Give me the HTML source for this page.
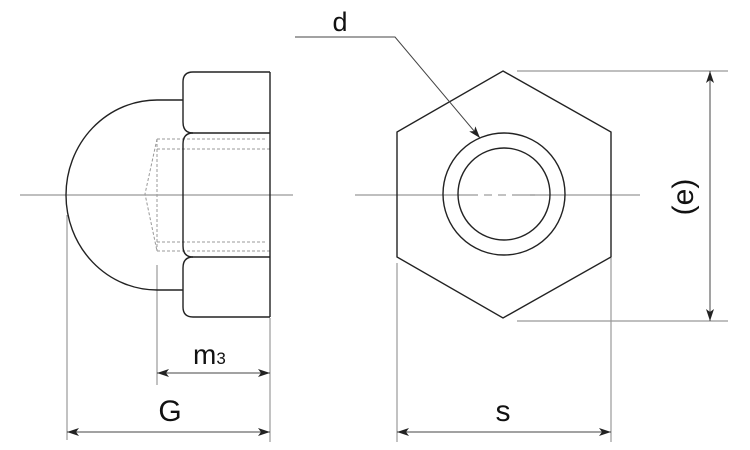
<!DOCTYPE html>
<html><head><style>body{margin:0;background:#fff}svg{display:block}</style></head><body>
<svg width="750" height="450" viewBox="0 0 750 450" xmlns="http://www.w3.org/2000/svg">
<defs>
<marker id="a" viewBox="0 0 12 8" refX="12" refY="4" markerWidth="12" markerHeight="8" orient="auto-start-reverse" markerUnits="userSpaceOnUse"><path d="M0,0 L12,4 L0,8 L3,4 z" fill="#222"/></marker>
</defs>
<g stroke="#999" stroke-width="1.2" fill="none">
<line x1="20" y1="195" x2="293" y2="195"/>
<line x1="355" y1="195" x2="478" y2="195"/>
<line x1="484" y1="195" x2="492" y2="195"/>
<line x1="498" y1="195" x2="506" y2="195"/>
<line x1="512" y1="195" x2="535" y2="195"/>
<line x1="530" y1="195" x2="640" y2="195"/>
<line x1="67" y1="215" x2="67" y2="440"/>
<line x1="157" y1="265" x2="157" y2="385"/>
<line x1="270" y1="318" x2="270" y2="442"/>
<line x1="397" y1="263" x2="397" y2="442"/>
<line x1="611" y1="258" x2="611" y2="442"/>
<line x1="517" y1="71" x2="728" y2="71"/>
<line x1="517" y1="321" x2="728" y2="321"/>
</g>
<g stroke="#999" stroke-width="1" fill="none" stroke-dasharray="3,2">
<line x1="157" y1="139" x2="266" y2="139"/>
<line x1="157" y1="149" x2="270" y2="149"/>
<line x1="157" y1="242" x2="266" y2="242"/>
<line x1="157" y1="251" x2="270" y2="251"/>
<line x1="157" y1="139" x2="157" y2="251"/>
<path d="M157,139 L145,194 L157,251"/>
</g>
<g stroke="#222" stroke-width="1.4" fill="none">
<path d="M157,100 A91,95 0 0 0 157,290"/>
<line x1="157" y1="100" x2="183" y2="100"/>
<line x1="157" y1="290" x2="183" y2="290"/>
<path d="M270,72 H193 Q183,72 183,82 V122 Q183,133 193,133 H270"/>
<path d="M193,133 Q183,133 183,144 V246 Q183,257 193,257"/>
<path d="M270,257 H193 Q183,257 183,268 V307 Q183,317 193,317 H270"/>
<line x1="270" y1="72" x2="270" y2="317"/>
<polygon points="503,71 611,132 611,257 503,318 397,257 397,132"/>
<circle cx="504" cy="194" r="61"/>
<circle cx="504" cy="194" r="46"/>
</g>
<g stroke="#444" stroke-width="1" fill="none">
<polyline points="295,37 395,37 480,138" marker-end="url(#a)"/>
<line x1="157" y1="373" x2="270" y2="373" marker-start="url(#a)" marker-end="url(#a)"/>
<line x1="67" y1="432" x2="270" y2="432" marker-start="url(#a)" marker-end="url(#a)"/>
<line x1="397" y1="432" x2="611" y2="432" marker-start="url(#a)" marker-end="url(#a)"/>
<line x1="710" y1="71" x2="710" y2="321" marker-start="url(#a)" marker-end="url(#a)"/>
</g>
<g font-family="Liberation Sans, sans-serif" fill="#111">
<text x="340" y="31" font-size="27" text-anchor="middle">d</text>
<text x="193" y="364" font-size="28">m<tspan font-size="17">3</tspan></text>
<text x="170" y="421" font-size="30" text-anchor="middle">G</text>
<text x="503" y="421" font-size="30" text-anchor="middle">s</text>
<text x="0" y="0" font-size="30" text-anchor="middle" transform="translate(693,197) rotate(-90)">(e)</text>
</g>
</svg>
</body></html>
